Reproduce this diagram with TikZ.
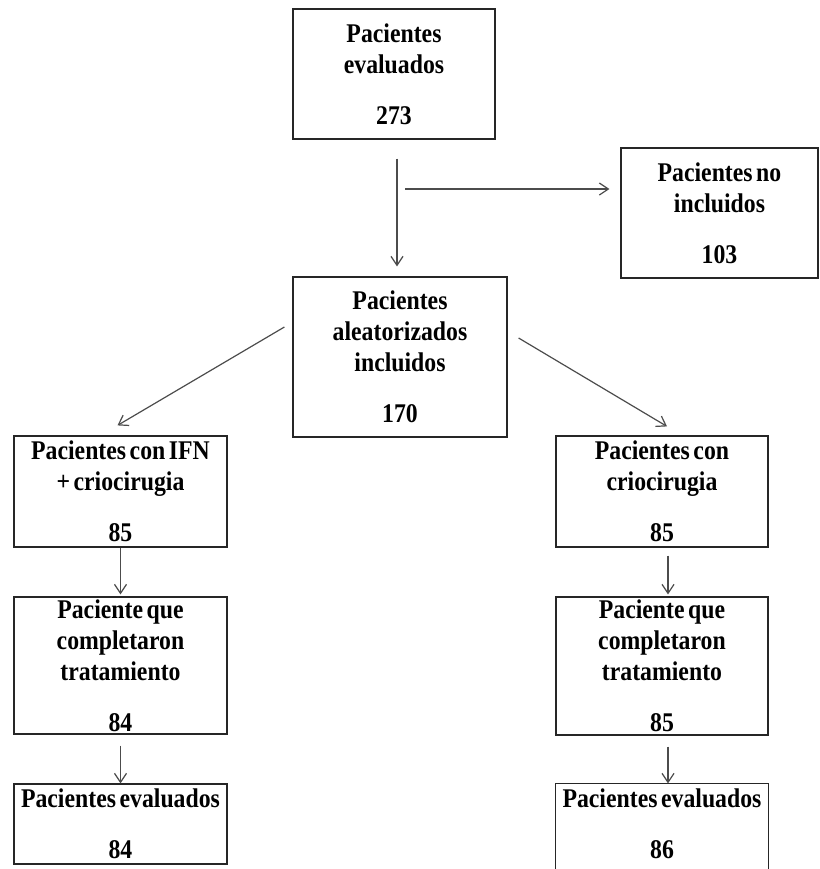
\documentclass[tikz,border=0pt]{standalone}
\usepackage{fontspec}
\setmainfont{Liberation Serif}[FakeStretch=0.88,WordSpace=0.6]
\usetikzlibrary{arrows.meta,calc}

\begin{document}
\begin{tikzpicture}[x=0.5pt,y=-0.5pt,
  borde/.style={draw=black!85, line width=0.6pt},
  caja/.style={borde, align=center, inner sep=0pt,
    font=\fontsize{13.5}{15.5}\selectfont\bfseries},
  flecha/.style={draw=black!70, line width=0.6pt,
    -{Straight Barb[length=4.5pt,width=6pt]}}]
\useasboundingbox (0,0) rectangle (820,869);
\clip (0,0) rectangle (820,869);
\node[caja, minimum width=101pt, minimum height=65pt] (eval) at (394,74) {Pacientes\\evaluados\\[10pt]273};
\node[caja, minimum width=98.5pt, minimum height=65pt] (noinc) at (719.5,213) {Pacientes no\\incluidos\\[10pt]103};
\node[caja, minimum width=107pt, minimum height=80pt] (rand) at (400,357) {Pacientes\\aleatorizados\\incluidos\\[10pt]170};
\node[caja, minimum width=106.5pt, minimum height=55.5pt] (ifn) at (120.5,491.5) {Pacientes con IFN\\+ criocirugia\\[10pt]85};
\node[caja, minimum width=106pt, minimum height=55.5pt] (crio) at (662,491.5) {Pacientes con\\criocirugia\\[10pt]85};
\node[caja, minimum width=106.5pt, minimum height=68.5pt] (comp) at (120.5,665.5) {Paciente que\\completaron\\tratamiento\\[10pt]84};
\node[caja, minimum width=106pt, minimum height=69pt] (comp2) at (662,666) {Paciente que\\completaron\\tratamiento\\[10pt]85};
\node[caja, minimum width=106.5pt, minimum height=40pt] (evl) at (120.5,824) {Pacientes evaluados\\[10pt]84};
\node[caja, draw=none, minimum width=106pt, minimum height=40pt] (evl2) at (662,824) {Pacientes evaluados\\[10pt]86};
\draw[borde] ([yshift=-10pt]evl2.south west) -- (evl2.north west) -- (evl2.north east) -- ([yshift=-10pt]evl2.south east);

\coordinate (split) at (397,189);
\draw[flecha, shorten <=9.5pt, shorten >=5pt] (eval.south -| split) -- (rand.north -| split);
\draw[flecha, shorten <=4pt, shorten >=5.5pt] (split) -- (split -| noinc.west);
\draw[flecha] ($(rand.west)+(-8,-30)$) -- ($(ifn.north)+(-3,-10)$);
\draw[flecha] ($(rand.east)+(11,-19)$) -- ($(crio.north)+(5,-9)$);
\draw[flecha, shorten >=1pt] (ifn) -- (comp);
\draw[flecha, shorten <=5.5pt] (comp) -- (evl);
\draw[flecha, shorten <=4pt, shorten >=1pt] ($(crio.south)+(6,0)$) -- ($(comp2.north)+(6,0)$);
\draw[flecha, shorten <=5.5pt] ($(comp2.south)+(6,0)$) -- ($(evl2.north)+(6,0)$);
\end{tikzpicture}
\end{document}
